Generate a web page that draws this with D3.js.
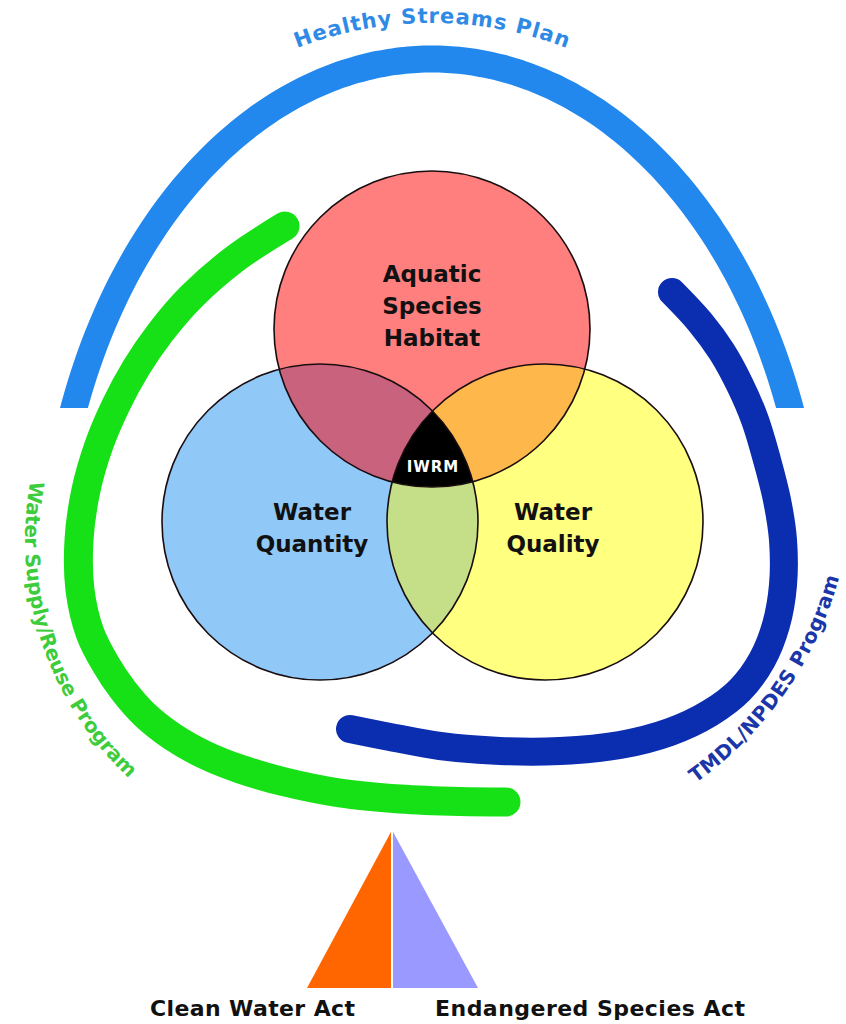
<!DOCTYPE html>
<html>
<head>
<meta charset="utf-8">
<style>
  body { margin: 0; background: #fff; }
  svg text { font-family: "DejaVu Sans", sans-serif; font-weight: bold; }
</style>
</head>
<body>
<div id="chart"></div>
<script src="https://d3js.org/d3.v7.min.js"></script>
<script>
// ---- content ----
var circleLines = [["Aquatic", "Species", "Habitat"], ["Water", "Quantity"], ["Water", "Quality"]];
var circleColors = ["#ff7f7f", "#90c8f8", "#ffff80"];
var overlapPairs = [[0, 1], [0, 2], [1, 2]];
var overlapColors = ["#c9627d", "#fdb74b", "#c4df88"];
var coreLabel = "IWRM";
var programNames = ["Healthy Streams Plan", "Water Supply/Reuse Program", "TMDL/NPDES Program"];
var programColors = ["#2288ee", "#16e016", "#0b2db0"];
var programTextColors = ["#2f8ae6", "#3ccc3c", "#1a36a8"];
var actNames = ["Clean Water Act", "Endangered Species Act"];
var actColors = ["#ff6600", "#9999ff"];

// ---- layout ----
var width = 846, height = 1024;
var R = 158;
var centers = [[432, 329], [320, 522], [545, 522]];
var labelOffsets = [[0, -47], [-8, -2], [8, -2]];   // first baseline, relative to centre
var lineGap = 32;
var deg = Math.PI / 180;

var svg = d3.select("#chart").append("svg")
    .attr("width", width)
    .attr("height", height);

var defs = svg.append("defs");
centers.forEach(function (c, i) {
  defs.append("clipPath").attr("id", "clip" + i)
    .append("circle").attr("cx", c[0]).attr("cy", c[1]).attr("r", R);
});
defs.append("clipPath").attr("id", "clipArch")
  .append("rect").attr("x", 0).attr("y", 0).attr("width", width).attr("height", 408);

// blue arch (Healthy Streams Plan) - half ellipse cut flat at the bottom
var arch = {cx: 432, cy: 600, rx: 383, ry: 541};
var archPts = d3.range(0.15, Math.PI - 0.15 + 0.001, 0.02).map(function (t) {
  return [arch.cx - arch.rx * Math.cos(t), arch.cy - arch.ry * Math.sin(t)];
});
var line = d3.line().curve(d3.curveCatmullRom.alpha(0.5));
svg.append("path")
  .attr("d", line(archPts))
  .attr("clip-path", "url(#clipArch)")
  .attr("fill", "none")
  .attr("stroke", programColors[0])
  .attr("stroke-width", 27);

// green band
var greenPts = [[285, 226], [236, 258], [191, 297], [160, 333], [136, 368], [116, 405], [99, 445],
  [86, 490], [79, 540], [80, 590], [90, 633], [105, 663], [123, 690], [145, 715], [173, 737],
  [205, 755], [240, 769], [285, 782], [340, 793], [400, 799], [460, 801.5], [506, 802]];
svg.append("path")
  .attr("d", line(greenPts))
  .attr("fill", "none")
  .attr("stroke", programColors[1])
  .attr("stroke-width", 29)
  .attr("stroke-linecap", "round");

// dark blue band
var navyPts = [[672, 292], [700, 322], [722, 352], [740, 385], [755, 420], [767, 460], [777, 500],
  [783, 540], [783, 585], [776, 625], [762, 660], [740, 690], [710, 713], [670, 732], [620, 745],
  [560, 751], [500, 751], [440, 746], [390, 737], [350, 729]];
svg.append("path")
  .attr("d", line(navyPts))
  .attr("fill", "none")
  .attr("stroke", programColors[2])
  .attr("stroke-width", 28)
  .attr("stroke-linecap", "round");

// program labels on curved paths
var textArcs = [
  {cx: 432, cy: 398, r: 375, a0: 180, a1: 360, ccw: false, size: 21, len: 276, mid: true},
  {cx: 350, cy: 540, r: 325, a0: 190.5, a1: 120, ccw: true, size: 20, len: 327, mid: false},
  {cx: 480, cy: 480, r: 372, a0: 54.6, a1: 8, ccw: true, size: 20, len: 256, mid: false}
];
textArcs.forEach(function (a, i) {
  var p = d3.path();
  p.arc(a.cx, a.cy, a.r, a.a0 * deg, a.a1 * deg, a.ccw);
  defs.append("path").attr("id", "tp" + i).attr("d", p.toString());
  var tp = svg.append("text")
    .attr("font-size", a.size)
    .attr("fill", programTextColors[i])
    .append("textPath")
    .attr("href", "#tp" + i)
    .attr("textLength", a.len)
    .text(programNames[i]);
  if (a.mid) tp.attr("startOffset", "50%").attr("text-anchor", "middle");
});

// venn circles
svg.selectAll("circle.base")
  .data(centers)
  .enter().append("circle")
  .attr("class", "base")
  .attr("cx", function (d) { return d[0]; })
  .attr("cy", function (d) { return d[1]; })
  .attr("r", R)
  .attr("fill", function (d, i) { return circleColors[i]; });

// pairwise overlaps
overlapPairs.forEach(function (pr, k) {
  var c = centers[pr[1]];
  svg.append("g").attr("clip-path", "url(#clip" + pr[0] + ")")
    .append("circle")
    .attr("cx", c[0]).attr("cy", c[1]).attr("r", R)
    .attr("fill", overlapColors[k]);
});

// triple overlap
svg.append("g").attr("clip-path", "url(#clip0)")
  .append("g").attr("clip-path", "url(#clip1)")
  .append("circle")
  .attr("cx", centers[2][0]).attr("cy", centers[2][1]).attr("r", R)
  .attr("fill", "#000");

// outlines
svg.selectAll("circle.ring")
  .data(centers)
  .enter().append("circle")
  .attr("class", "ring")
  .attr("cx", function (d) { return d[0]; })
  .attr("cy", function (d) { return d[1]; })
  .attr("r", R)
  .attr("fill", "none")
  .attr("stroke", "#1a0d10")
  .attr("stroke-width", 1.6);

// circle labels
circleLines.forEach(function (lines, i) {
  var x = centers[i][0] + labelOffsets[i][0];
  var y0 = centers[i][1] + labelOffsets[i][1];
  var t = svg.append("text")
    .attr("text-anchor", "middle")
    .attr("font-size", 23)
    .attr("fill", "#111");
  lines.forEach(function (s, j) {
    t.append("tspan").attr("x", x).attr("y", y0 + j * lineGap).text(s);
  });
});

svg.append("text")
  .attr("x", 433).attr("y", 472)
  .attr("text-anchor", "middle")
  .attr("font-size", 15)
  .attr("letter-spacing", 1)
  .attr("fill", "#fff")
  .text(coreLabel);

// acts triangle
var tri = {apexX: 392, apexY: 830, baseY: 988, half: 85};
var triParts = [
  [[tri.apexX, tri.apexY], [tri.apexX - tri.half, tri.baseY], [tri.apexX, tri.baseY]],
  [[tri.apexX, tri.apexY], [tri.apexX + tri.half + 1, tri.baseY], [tri.apexX, tri.baseY]]
];
svg.selectAll("path.tri")
  .data(triParts)
  .enter().append("path")
  .attr("class", "tri")
  .attr("d", function (d) { return "M" + d.join("L") + "Z"; })
  .attr("fill", function (d, i) { return actColors[i]; });
svg.append("line")
  .attr("x1", tri.apexX).attr("x2", tri.apexX)
  .attr("y1", tri.apexY).attr("y2", tri.baseY)
  .attr("stroke", "#fff").attr("stroke-width", 2);

var actPos = [[150, 205], [435, 310]];
svg.selectAll("text.act")
  .data(actNames)
  .enter().append("text")
  .attr("class", "act")
  .attr("x", function (d, i) { return actPos[i][0]; })
  .attr("y", 1016)
  .attr("font-size", 22)
  .attr("textLength", function (d, i) { return actPos[i][1]; })
  .attr("fill", "#111")
  .text(function (d) { return d; });
</script>
</body>
</html>
